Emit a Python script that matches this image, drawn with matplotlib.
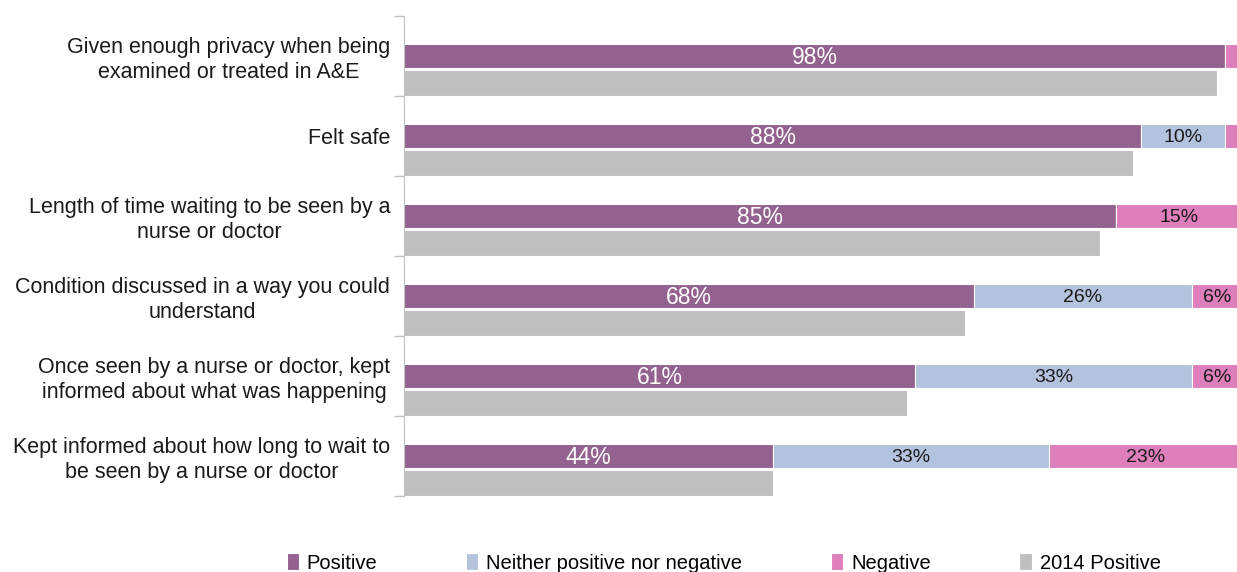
import matplotlib
matplotlib.use('Agg')
import matplotlib.pyplot as plt
import numpy as np

categories = ["Given enough privacy when being\nexamined or treated in A&E",
              "Felt safe",
              "Length of time waiting to be seen by a\nnurse or doctor",
              "Condition discussed in a way you could\nunderstand",
              "Once seen by a nurse or doctor, kept\ninformed about what was happening",
              "Kept informed about how long to wait to\nbe seen by a nurse or doctor"]

positive = [98, 88, 85, 68, 61, 44]
neither = [0, 10, 0, 26, 33, 33]
negative = [2, 2, 15, 6, 6, 23]
positive_2014 = [97, 87, 83, 67, 60, 44]

# labels drawn inside the stacked segments (None = no label)
pos_labels = ["98%", "88%", "85%", "68%", "61%", "44%"]
nei_labels = [None, "10%", None, "26%", "33%", "33%"]
neg_labels = [None, None, "15%", "6%", "6%", "23%"]

c_pos = '#93628F'
c_nei = '#B3C3DE'
c_neg = '#DE7EBB'
c_old = '#BFBFBF'

plt.rcParams['font.family'] = ['Liberation Sans', 'DejaVu Sans']

fig = plt.figure(figsize=(12.37, 5.72), dpi=100)
ax = fig.add_axes([404/1237, 76/572, 833/1237, 480/572])

y = np.arange(len(categories))
y_now = y + 0.5
y_old = y + 0.835
h = 0.31

ax.barh(y_now, positive, height=h, color=c_pos, edgecolor='white', linewidth=0.8, label='Positive')
ax.barh(y_now, neither, left=positive, height=h, color=c_nei, edgecolor='white', linewidth=0.8,
        label='Neither positive nor negative')
left_neg = np.array(positive) + np.array(neither)
ax.barh(y_now, negative, left=left_neg, height=h, color=c_neg, edgecolor='white', linewidth=0.8,
        label='Negative')
ax.barh(y_old, positive_2014, height=0.325, color=c_old, edgecolor='white', linewidth=0.8,
        label='2014 Positive')

for i in range(len(categories)):
    ax.text(positive[i] / 2, y_now[i] + 0.02, pos_labels[i], color='white', fontsize=16.5,
            ha='center', va='center')
    if nei_labels[i]:
        ax.text(positive[i] + neither[i] / 2, y_now[i] + 0.02, nei_labels[i], color='#1a1a1a',
                fontsize=14, ha='center', va='center')
    if neg_labels[i]:
        ax.text(left_neg[i] + negative[i] / 2, y_now[i] + 0.02, neg_labels[i], color='#1a1a1a',
                fontsize=14, ha='center', va='center')

ax.set_xlim(0, 99.4)
ax.set_ylim(len(categories), 0)
ax.set_xticks([])
ax.set_yticks(y_now)
ax.set_yticklabels(categories, fontsize=15.5, color='#1a1a1a', multialignment='center')
ax.tick_params(axis='y', which='major', length=0, pad=10)
ax.set_yticks(np.arange(len(categories) + 1), minor=True)
ax.tick_params(axis='y', which='minor', length=7, color='#BFBFBF', width=1)

for s in ['top', 'right', 'bottom']:
    ax.spines[s].set_visible(False)
ax.spines['left'].set_color('#BFBFBF')

fig.legend(loc='center', bbox_to_anchor=(0.585, 9/572), ncol=4, frameon=False,
           handlelength=0.6, handleheight=0.9, handletextpad=0.4, columnspacing=4.4,
           prop={'size': 14.5})

fig.savefig('out.png', dpi=100)
